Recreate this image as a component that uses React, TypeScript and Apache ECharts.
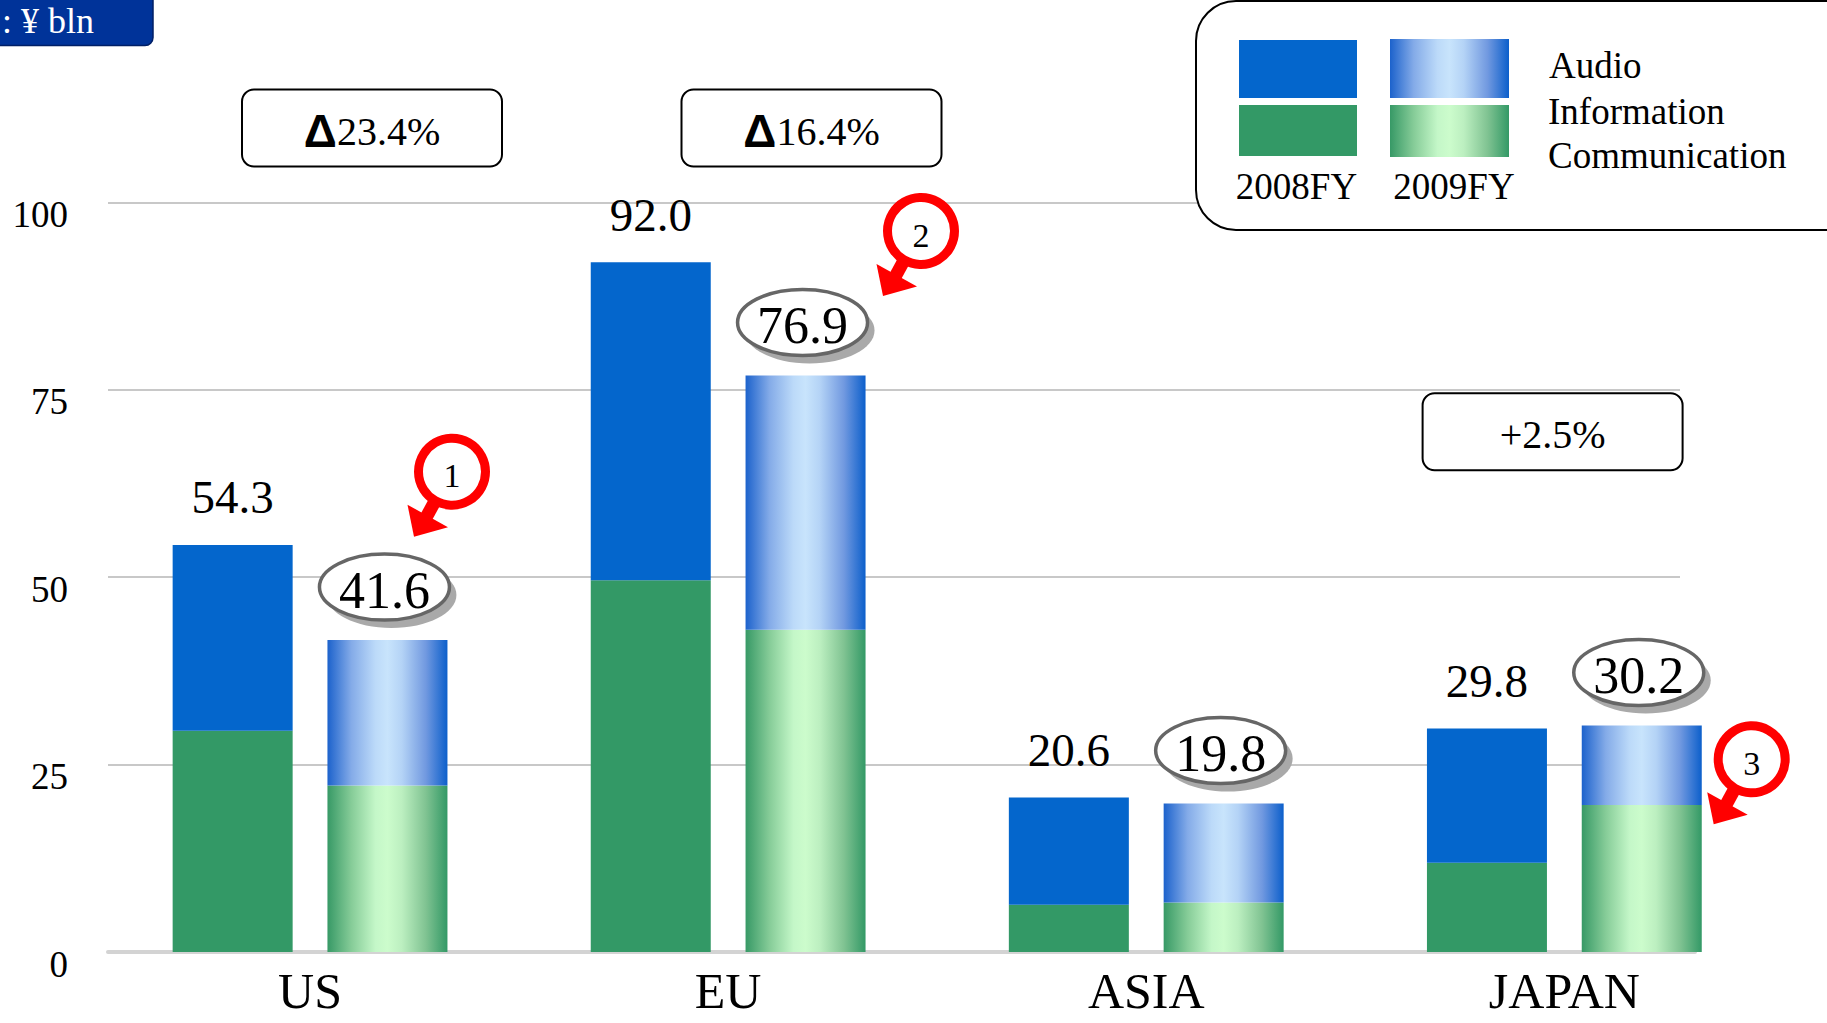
import React, { useEffect, useRef } from "react";
import * as echarts from "echarts";

// Regions on the category axis
const categories = ["US", "EU", "ASIA", "JAPAN"];

// Sales by segment, ¥ bln (bottom segment = Information / Communication, top = Audio)
const infoComm2008 = [29.5, 49.6, 6.3, 11.9];
const audio2008 = [24.8, 42.4, 14.3, 17.9];
const infoComm2009 = [22.2, 43.0, 6.6, 19.6];
const audio2009 = [19.4, 33.9, 13.2, 10.6];

// Year-on-year notes shown in boxes above the regions
const changeNotes = [
  { tri: true, text: "23.4%", cx: 372, cy: 128 },
  { tri: true, text: "16.4%", cx: 811.5, cy: 128 },
  { tri: false, text: "+2.5%", cx: 1552.6, cy: 431.7 },
];

// Numbered callouts
const callouts = [
  { n: "1", cx: 452, cy: 471.7 },
  { n: "2", cx: 921, cy: 231 },
  { n: "3", cx: 1751.7, cy: 759.3 },
];

const yTicks = { min: 0, max: 100, interval: 25 };

const SERIF = '"Liberation Serif", "Times New Roman", serif';
const BLUE = "#0466cc";
const GREEN = "#339966";
const BAR_W = 120;
const BAR_GAP = 0.29;
const PAIR_OFFSET = (BAR_W + BAR_W * BAR_GAP) / 2;

const total = (a: number[], b: number[]) => a.map((v, i) => v + b[i]);
const total2008 = total(infoComm2008, audio2008);
const total2009 = total(infoComm2009, audio2009);

const blueGrad = () =>
  new echarts.graphic.LinearGradient(0, 0, 1, 0, [
    { offset: 0, color: "#1c62cc" },
    { offset: 0.2, color: "#84abe8" },
    { offset: 0.4, color: "#bcdaf9" },
    { offset: 0.5, color: "#c8e4fc" },
    { offset: 0.62, color: "#b4d3f6" },
    { offset: 0.82, color: "#7199e0" },
    { offset: 1, color: "#0c5fcb" },
  ]);
const greenGrad = () =>
  new echarts.graphic.LinearGradient(0, 0, 1, 0, [
    { offset: 0, color: "#379966" },
    { offset: 0.2, color: "#86cc98" },
    { offset: 0.4, color: "#c4f7c8" },
    { offset: 0.5, color: "#ccfccc" },
    { offset: 0.62, color: "#bcefc0" },
    { offset: 0.82, color: "#80c392" },
    { offset: 1, color: "#339966" },
  ]);

function buildGraphics() {
  const els: any[] = [];

  // unit tag, top-left
  els.push({
    type: "rect",
    shape: { x: -20, y: -20, width: 173, height: 65.5, r: 8 },
    style: { fill: "#003399", stroke: "#001f66", lineWidth: 1.5 },
    z: 20,
  });
  els.push({
    type: "text",
    x: 2,
    y: 21,
    style: {
      text: ": ¥ bln",
      fill: "#ffffff",
      font: `36px ${SERIF}`,
      verticalAlign: "middle",
    },
    z: 21,
  });

  // change boxes
  changeNotes.forEach((c) => {
    els.push({
      type: "rect",
      shape: { x: c.cx - 130, y: c.cy - 38.5, width: 260, height: 77, r: 12 },
      style: { fill: "#fff", stroke: "#000", lineWidth: 2 },
      z: 20,
    });
    els.push({
      type: "text",
      x: c.cx,
      y: c.cy + 3,
      style: {
        text: c.tri ? `{t|Δ}{n|${c.text}}` : `{n|${c.text}}`,
        align: "center",
        verticalAlign: "middle",
        rich: {
          t: {
            fontFamily: '"Liberation Sans", Arial, sans-serif',
            fontWeight: "bold",
            fontSize: 46,
            fill: "#000",
          },
          n: { fontFamily: SERIF, fontSize: 40, fill: "#000" },
        },
      },
      z: 21,
    });
  });

  // callouts: arrow + red ring + number
  callouts.forEach((c) => {
    els.push({
      type: "line",
      shape: { x1: c.cx - 14, y1: c.cy + 24, x2: c.cx - 26, y2: c.cy + 46 },
      style: { stroke: "#ff0000", lineWidth: 13 },
      z: 30,
    });
    els.push({
      type: "polygon",
      shape: {
        points: [
          [c.cx - 38, c.cy + 65],
          [c.cx - 44.5, c.cy + 33],
          [c.cx - 4, c.cy + 55.5],
        ],
      },
      style: { fill: "#ff0000" },
      z: 30,
    });
    els.push({
      type: "circle",
      shape: { cx: c.cx, cy: c.cy, r: 33.5 },
      style: { fill: "#fff", stroke: "#ff0000", lineWidth: 9 },
      z: 31,
    });
    els.push({
      type: "text",
      x: c.cx,
      y: c.cy + 4,
      style: {
        text: c.n,
        font: `34px ${SERIF}`,
        fill: "#000",
        align: "center",
        verticalAlign: "middle",
      },
      z: 32,
    });
  });

  // legend panel
  els.push({
    type: "rect",
    shape: { x: 1196, y: 1, width: 700, height: 229, r: 40 },
    style: { fill: "#fff", stroke: "#000", lineWidth: 2 },
    z: 20,
  });
  els.push({
    type: "rect",
    shape: { x: 1239, y: 40, width: 118, height: 58 },
    style: { fill: BLUE },
    z: 21,
  });
  els.push({
    type: "rect",
    shape: { x: 1239, y: 105, width: 118, height: 51 },
    style: { fill: GREEN },
    z: 21,
  });
  els.push({
    type: "rect",
    shape: { x: 1390, y: 39, width: 119, height: 59 },
    style: { fill: blueGrad() },
    z: 21,
  });
  els.push({
    type: "rect",
    shape: { x: 1390, y: 105, width: 119, height: 52 },
    style: { fill: greenGrad() },
    z: 21,
  });
  [
    { t: "2008FY", x: 1296.5, y: 186, align: "center" },
    { t: "2009FY", x: 1454, y: 186, align: "center" },
    { t: "Audio", x: 1549, y: 65, align: "left" },
    { t: "Information", x: 1548, y: 111, align: "left" },
    { t: "Communication", x: 1548, y: 155, align: "left" },
  ].forEach((l) => {
    els.push({
      type: "text",
      x: l.x,
      y: l.y,
      style: {
        text: l.t,
        font: `37px ${SERIF}`,
        fill: "#000",
        align: l.align,
        verticalAlign: "middle",
      },
      z: 21,
    });
  });

  return els;
}

export default function App() {
  const ref = useRef<HTMLDivElement>(null);

  useEffect(() => {
    if (!ref.current) return;
    const chart = echarts.init(ref.current, undefined, { renderer: "svg" });

    const gridTop = 202.3;
    const gridBottom = 1023 - 952;

    chart.setOption({
      animation: false,
      backgroundColor: "#ffffff",
      textStyle: { fontFamily: SERIF },
      grid: [
        { left: 101, right: 53.6, top: gridTop, bottom: gridBottom },
        { left: 108, right: 147, top: gridTop, bottom: gridBottom },
        { left: 108, right: 132, top: gridTop, bottom: gridBottom },
      ],
      xAxis: [
        {
          type: "category",
          gridIndex: 0,
          data: categories,
          axisLine: { show: false },
          axisTick: { show: false },
          axisLabel: {
            fontSize: 50,
            lineHeight: 44,
            color: "#000",
            fontFamily: SERIF,
            margin: 17,
          },
        },
        { type: "value", gridIndex: 1, show: false },
        {
          type: "value",
          gridIndex: 2,
          min: 0,
          max: 1,
          axisLine: { show: true, lineStyle: { color: "#d3d3d3", width: 4 } },
          axisTick: { show: false },
          axisLabel: { show: false },
          splitLine: { show: false },
        },
      ],
      yAxis: [
        { type: "value", gridIndex: 0, min: yTicks.min, max: yTicks.max, show: false },
        {
          type: "value",
          gridIndex: 1,
          min: yTicks.min,
          max: yTicks.max,
          interval: yTicks.interval,
          axisLine: { show: false },
          axisTick: { show: false },
          splitLine: { lineStyle: { color: "#c8c8c8", width: 2 } },
          axisLabel: {
            fontSize: 37,
            lineHeight: 24,
            verticalAlign: "top",
            color: "#000",
            fontFamily: SERIF,
            margin: 40,
          },
        },
        { type: "value", gridIndex: 2, min: yTicks.min, max: yTicks.max, show: false },
      ],
      series: [
        {
          name: "Information / Communication 2008FY",
          type: "bar",
          stack: "fy2008",
          xAxisIndex: 0,
          yAxisIndex: 0,
          barWidth: BAR_W,
          barGap: `${BAR_GAP * 100}%`,
          itemStyle: { color: GREEN },
          data: infoComm2008,
        },
        {
          name: "Audio 2008FY",
          type: "bar",
          stack: "fy2008",
          xAxisIndex: 0,
          yAxisIndex: 0,
          barWidth: BAR_W,
          barGap: `${BAR_GAP * 100}%`,
          itemStyle: { color: BLUE },
          label: {
            show: true,
            position: "top",
            distance: 24,
            fontSize: 47,
            fontFamily: SERIF,
            color: "#000",
            formatter: (p: any) => total2008[p.dataIndex].toFixed(1),
          },
          data: audio2008,
        },
        {
          name: "Information / Communication 2009FY",
          type: "bar",
          stack: "fy2009",
          xAxisIndex: 0,
          yAxisIndex: 0,
          barWidth: BAR_W,
          barGap: `${BAR_GAP * 100}%`,
          itemStyle: { color: greenGrad() },
          data: infoComm2009,
        },
        {
          name: "Audio 2009FY",
          type: "bar",
          stack: "fy2009",
          xAxisIndex: 0,
          yAxisIndex: 0,
          barWidth: BAR_W,
          barGap: `${BAR_GAP * 100}%`,
          itemStyle: { color: blueGrad() },
          data: audio2009,
        },
        {
          name: "2009FY total",
          type: "custom",
          xAxisIndex: 0,
          yAxisIndex: 0,
          clip: false,
          z: 10,
          encode: { x: 0, y: 1 },
          data: total2009.map((v, i) => [i, v]),
          renderItem: (_params: any, api: any) => {
            const idx = api.value(0);
            const val = api.value(1);
            const pt = api.coord([idx, val]);
            const cx = pt[0] + PAIR_OFFSET - 3;
            const cy = pt[1] - 53;
            return {
              type: "group",
              children: [
                {
                  type: "ellipse",
                  shape: { cx: cx + 7, cy: cy + 8, rx: 65, ry: 33 },
                  style: { fill: "#a9a9a9" },
                },
                {
                  type: "ellipse",
                  shape: { cx, cy, rx: 65, ry: 33 },
                  style: { fill: "#ffffff", stroke: "#666666", lineWidth: 3.5 },
                },
                {
                  type: "text",
                  x: cx,
                  y: cy + 3,
                  style: {
                    text: Number(val).toFixed(1),
                    font: `52px ${SERIF}`,
                    fill: "#000",
                    align: "center",
                    verticalAlign: "middle",
                  },
                },
              ],
            };
          },
        },
      ],
      graphic: buildGraphics(),
    });

    return () => chart.dispose();
  }, []);

  return (
    <div
      ref={ref}
      style={{
        position: "fixed",
        left: 0,
        top: 0,
        width: 1827,
        height: 1023,
        background: "#fff",
      }}
    />
  );
}
